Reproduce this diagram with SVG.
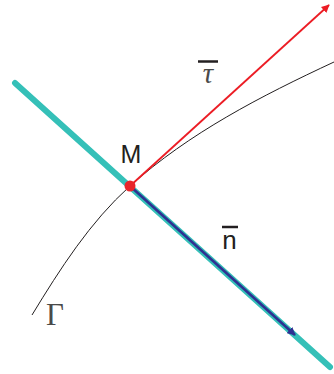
<svg xmlns="http://www.w3.org/2000/svg" width="334" height="374" viewBox="0 0 334 374">
<style>
.lbl{font-family:"Liberation Sans",Arial,sans-serif;fill:#231f20}
.ser{font-family:"Liberation Serif","Times New Roman",serif;fill:#4a4a4a}
.bar{stroke:#231f20;stroke-width:2.5}
</style>
<defs>
<marker id="ar" viewBox="0 0 10 10" refX="9" refY="5" markerWidth="4.5" markerHeight="4.5" orient="auto" markerUnits="strokeWidth">
<path d="M0,0 L10,5 L0,10 z" fill="#ec1c24"/>
</marker>
<marker id="ab" viewBox="0 0 10 10" refX="9" refY="5" markerWidth="3.2" markerHeight="3.2" orient="auto" markerUnits="strokeWidth">
<path d="M0,0 L10,5 L0,10 z" fill="#2e3192"/>
</marker>
</defs>
<g id="connectors">
<path id="gamma" d="M32,315 C60,269 90,222 130,186 C189,133 261,96 334,62" fill="none" stroke="#231f20" stroke-width="1"/>
<line id="normal-line" x1="15" y1="83" x2="330" y2="367" stroke="#35c0b8" stroke-width="6" stroke-linecap="round"/>
<line id="tau-vec" x1="130" y1="186" x2="329" y2="5" stroke="#ec1c24" stroke-width="1.8" marker-end="url(#ar)"/>
<line id="n-vec" x1="130" y1="186" x2="295" y2="335" stroke="#2e3192" stroke-width="2.6" marker-end="url(#ab)"/>
</g>
<g id="M">
<circle cx="130" cy="186" r="5.5" fill="#e8262b"/>
<text class="lbl" x="131" y="163" font-size="25" text-anchor="middle">M</text>
</g>
<g id="tau">
<line class="bar" x1="198" y1="61.5" x2="218" y2="61.5"/>
<text class="ser" x="208" y="83" font-size="29" font-style="italic" text-anchor="middle">τ</text>
</g>
<g id="n">
<line class="bar" x1="222" y1="227" x2="238" y2="227"/>
<text class="lbl" x="229.5" y="249" font-size="26" text-anchor="middle">n</text>
</g>
<g id="Gamma">
<text class="ser" x="55" y="325" font-size="31" text-anchor="middle">Γ</text>
</g>
</svg>
